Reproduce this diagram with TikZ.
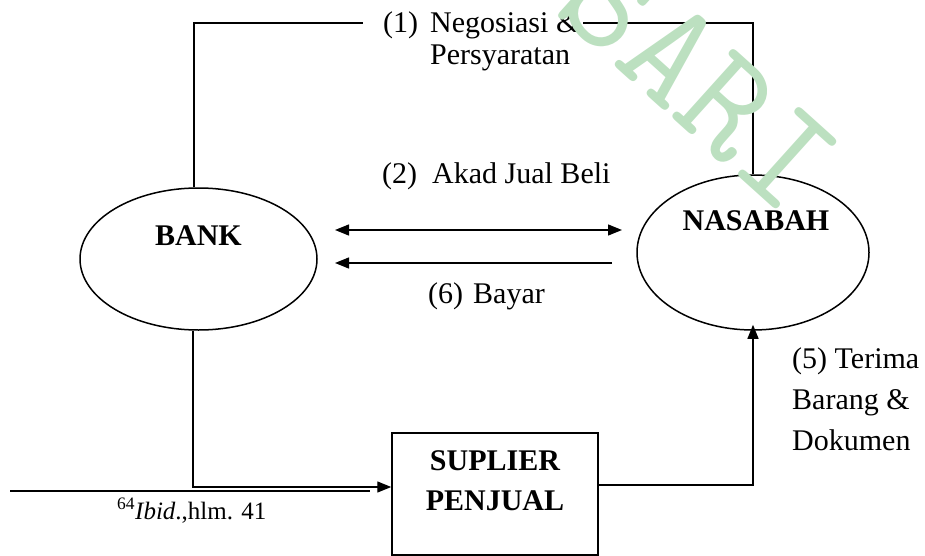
\documentclass[tikz,border=0pt]{standalone}
\usepackage{fontspec}
\setmainfont{Liberation Serif}
\usetikzlibrary{shapes.geometric,arrows.meta}
\definecolor{wmgreen}{RGB}{188,224,192}
\begin{document}
\begin{tikzpicture}[x=1pt,y=-1pt]
\tikzset{
  line/.style={line width=1.3pt},
  oval/.style={draw, ellipse, line width=1.5pt, inner sep=0pt},
  box/.style={draw, rectangle, line width=1.5pt, inner sep=0pt},
  lbl/.style={inner sep=0pt, anchor=base west},
  ttl/.style={inner sep=0pt, anchor=base, font=\fontsize{30}{40}\selectfont\bfseries},
  tip/.style={-{Triangle[length=14pt,width=11pt]}},
  dtip/.style={{Triangle[length=14pt,width=11pt]}-{Triangle[length=14pt,width=11pt]}},
  wm/.style={inner sep=0pt, text=wmgreen, rotate=-42, font=\ttfamily\fontsize{152}{152}\selectfont}
}
\useasboundingbox (0,0) rectangle (925,556);

% shapes
\node[oval, minimum width=237pt, minimum height=142pt] (bank) at (198.5,259) {};
\node[oval, minimum width=232pt, minimum height=155pt] (nas) at (753,252.5) {};
\node[box, minimum width=206pt, minimum height=122pt] (sup) at (495,494) {};

% titles
\node[ttl] (tbank) at (198.5,245) {BANK};
\node[ttl] (tnas) at (756,230) {NASABAH};
\node[ttl] (tsup) at (495,470) {\begin{tabular}[t]{@{}c@{}}SUPLIER\\PENJUAL\end{tabular}};

% labels
\node[lbl, font=\fontsize{30}{32}\selectfont] (l1) at (383,33)
  {\begin{tabular}[t]{@{}l@{}l@{}}\makebox[47pt][l]{(1)}&Negosiasi \&\\ &Persyaratan\end{tabular}};
\node[lbl, font=\fontsize{30}{32}\selectfont] (l2) at (382,183) {\makebox[50pt][l]{(2)}Akad Jual Beli};
\node[lbl, font=\fontsize{30}{32}\selectfont] (l6) at (428,303) {\makebox[45pt][l]{(6)}Bayar};
\node[lbl, font=\fontsize{30}{41}\selectfont] (l5) at (792,368)
  {\begin{tabular}[t]{@{}l@{}}(5) Terima\\Barang \&\\Dokumen\end{tabular}};
\node[lbl, font=\fontsize{25}{28}\selectfont] (fn) at (117,519) {\textsuperscript{64}\textit{Ibid}.,hlm. 41};

% free ends
\coordinate (c1) at (363,23);
\coordinate (c2) at (583,23);
\coordinate (a1) at (335,230);
\coordinate (a2) at (622,230);
\coordinate (b1) at (612,263);
\coordinate (b2) at (335,263);
\coordinate (f1) at (10,491);
\coordinate (f2) at (370,491);

% connectors
\draw[line] ([xshift=-4.5pt]bank.north) |- (c1);
\draw[line] (c2) -| (nas.north);
\draw[line, dtip] (a1) -- (a2);
\draw[line, tip] (b1) -- (b2);
\draw[line, tip] ([xshift=-5.5pt]bank.south) |- ([yshift=7pt]sup.west);
\draw[line, tip] ([yshift=9pt]sup.east) -| ([yshift=6pt]nas.south);
\draw[line width=2.5pt] (f1) -- (f2);

% watermark
\node[wm] (wmark) at (700,80) {SARI};
\end{tikzpicture}
\end{document}
